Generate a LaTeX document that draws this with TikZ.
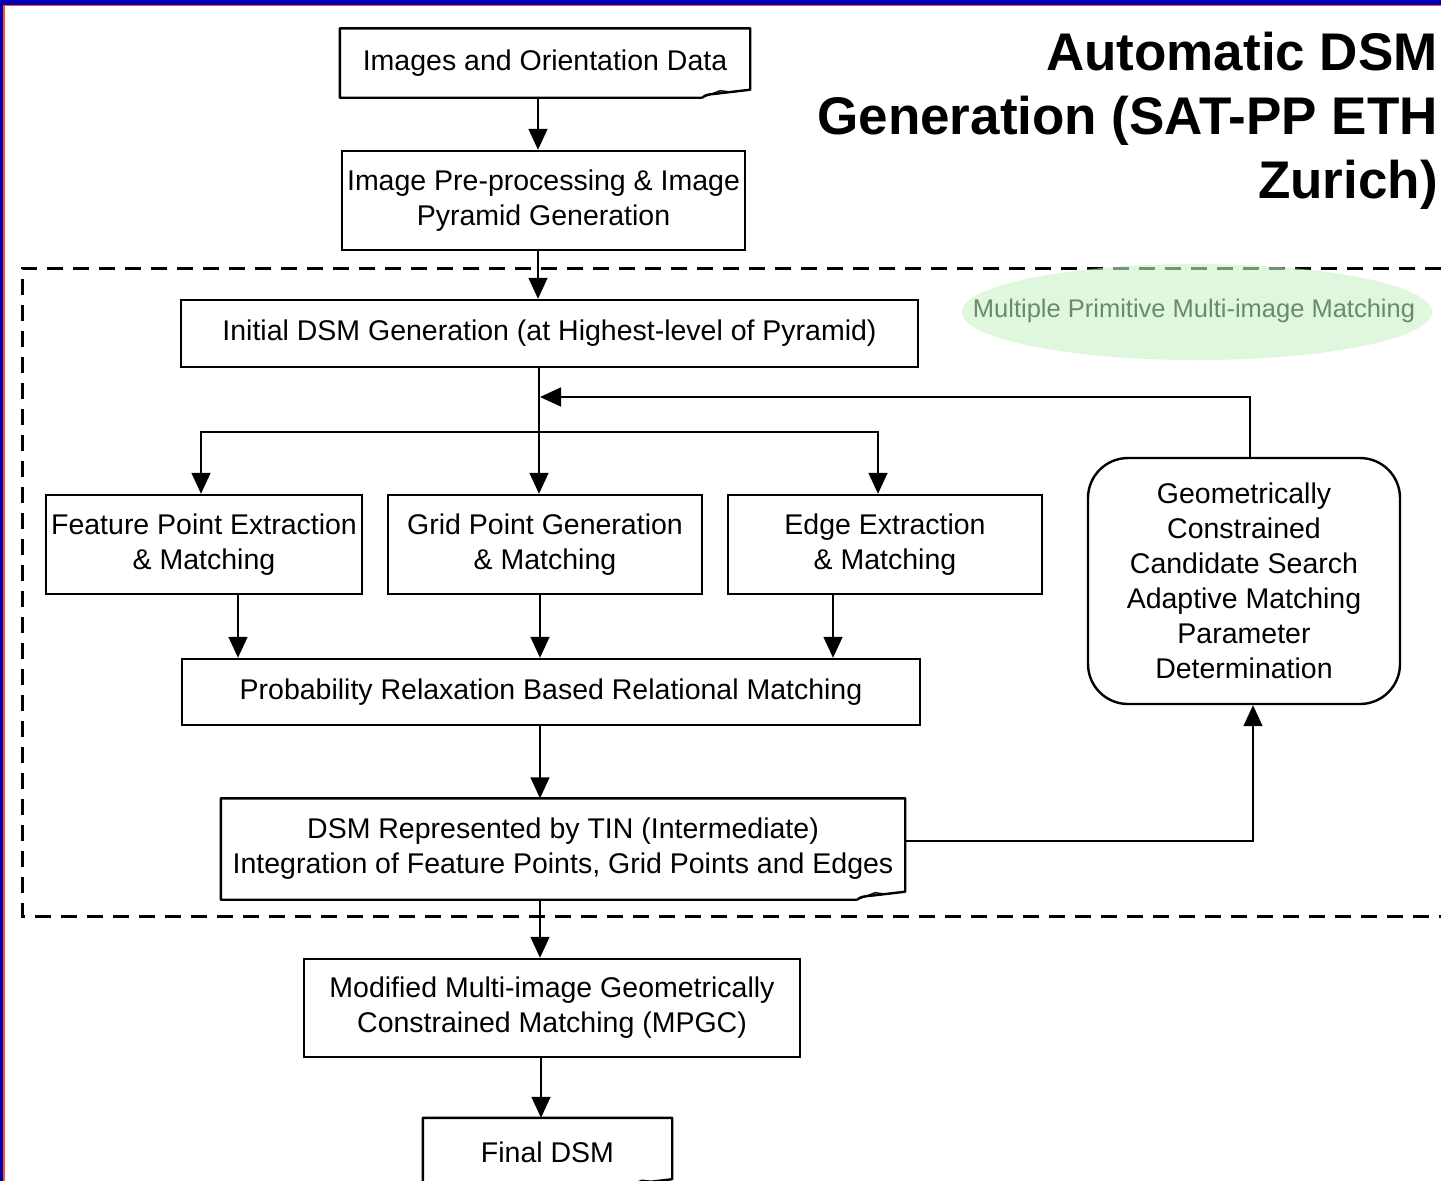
\documentclass[tikz,border=0pt]{standalone}
\usepackage{fontspec}
\setmainfont{Liberation Sans}
\usetikzlibrary{arrows.meta,calc}

\definecolor{rimblue}{RGB}{0,0,185}
\definecolor{rimred}{RGB}{255,80,40}
\definecolor{cloudfill}{RGB}{203,243,197}
\definecolor{cloudtext}{RGB}{107,138,107}

% rectangle with a curled bottom-right corner
\newcommand\docframe[1]{%
  \draw[line width=2.4pt, line join=round]
    ($(#1.south east)+(-48,0)$) -- (#1.south west) -- (#1.north west)
    -- (#1.north east) -- ($(#1.south east)+(0,-8)$)
    -- ($(#1.south east)+(-34,-4)$)
    .. controls ($(#1.south east)+(-44,-3)$) .. ($(#1.south east)+(-48,0)$);
  \draw[line width=1.4pt]
    ($(#1.south east)+(-46,-1)$) -- ($(#1.south east)+(-30,-7)$)
    -- ($(#1.south east)+(-22,-6)$);
}

\begin{document}
\begin{tikzpicture}[x=1pt,y=-1pt,
  every node/.style={font=\fontsize{28.5}{35}\selectfont, align=center, inner sep=0pt},
  frame/.style={draw, line width=2.4pt},
  link/.style={line width=1.5pt},
  arr/.style={link, -{Triangle[length=21pt,width=19pt]}},
  region/.style={line width=3pt, dash pattern=on 16pt off 10pt}
]
\useasboundingbox (0,0) rectangle (1441,1181);
\fill[white] (0,0) rectangle (1441,1181);

% window rim
\fill[rimblue] (0,0) rectangle (1441,4.5);
\fill[rimblue] (0,0) rectangle (3,1181);
\draw[rimred, line width=1.5pt] (3.8,1181) -- (3.8,5.6) -- (1441,5.6);

% dashed region of the multi-primitive matching stage
\draw[region] (1441,268) -- (22,268) -- (22,916) -- (1441,916);

% title
\node[font=\fontsize{53}{64}\selectfont\bfseries, align=right, anchor=north east]
  (title) at (1438,32) {Automatic DSM\\Generation (SAT-PP ETH\\Zurich)};

% region label on a translucent oval
\fill[cloudfill, fill opacity=0.6] (1197,312) ellipse [x radius=235, y radius=48];
\node[text=cloudtext, font=\fontsize{25.5}{30}\selectfont]
  (cloud) at (1194,311) {Multiple Primitive Multi-image Matching};

% process boxes
\node[minimum width=410, minimum height=69] (b1) at (545,63) {Images and Orientation Data};
\node[frame, minimum width=403, minimum height=99] (b2) at (543.5,200.5)
  {Image Pre-processing \& Image\\Pyramid Generation};
\node[frame, minimum width=737, minimum height=67] (b3) at (549.5,333.5)
  {Initial DSM Generation (at Highest-level of Pyramid)};
\node[frame, minimum width=316, minimum height=99] (fp) at (204,544.5)
  {Feature Point Extraction\\\& Matching};
\node[frame, minimum width=314, minimum height=99] (gp) at (545,544.5)
  {Grid Point Generation\\\& Matching};
\node[frame, minimum width=314, minimum height=99] (ed) at (885,544.5)
  {Edge Extraction\\\& Matching};
\node[frame, rounded corners=40pt, minimum width=312, minimum height=246] (geo) at (1244,581)
  {Geometrically\\Constrained\\Candidate Search\\Adaptive Matching\\Parameter\\Determination};
\node[frame, minimum width=738, minimum height=66] (pr) at (551,692)
  {Probability Relaxation Based Relational Matching};
\node[minimum width=684, minimum height=101] (tin) at (563,849)
  {DSM Represented by TIN (Intermediate)\\Integration of Feature Points, Grid Points and Edges};
\node[frame, minimum width=496, minimum height=98] (mp) at (552,1008)
  {Modified Multi-image Geometrically\\Constrained Matching (MPGC)};
\node[minimum width=249, minimum height=69] (fin) at (547.5,1152.5) {Final DSM};

\docframe{b1}
\docframe{tin}
\docframe{fin}

% guide positions for connectors
\coordinate (tx) at (538,0);
\coordinate (cx) at (540,0);
\coordinate (mx) at (541,0);
\coordinate (fx) at (201,0);
\coordinate (ex) at (878,0);
\coordinate (br) at (539,432);
\coordinate (fb) at (540,397);
\coordinate (gtx) at (1250,0);
\coordinate (gbx) at (1253,0);
\coordinate (ty) at (0,841);
\coordinate (p1) at (238,0);
\coordinate (p3) at (833,0);

% connectors
\draw[arr] (b1.south -| tx) -- (b2.north -| tx);
\draw[arr] (b2.south -| tx) -- (b3.north -| tx);
\draw[arr] (b3.south -| br) -- (gp.north -| br);
\draw[arr] (br) -| (fp.north -| fx);
\draw[arr] (br) -| (ed.north -| ex);
\draw[arr] (geo.north -| gtx) |- (fb);
\draw[arr] (fp.south -| p1) -- (pr.north -| p1);
\draw[arr] (gp.south -| cx) -- (pr.north -| cx);
\draw[arr] (ed.south -| p3) -- (pr.north -| p3);
\draw[arr] (pr.south -| cx) -- (tin.north -| cx);
\draw[arr] (tin.east |- ty) -| (geo.south -| gbx);
\draw[arr] (tin.south -| cx) -- (mp.north -| cx);
\draw[arr] (mp.south -| mx) -- (fin.north -| mx);
\end{tikzpicture}
\end{document}
